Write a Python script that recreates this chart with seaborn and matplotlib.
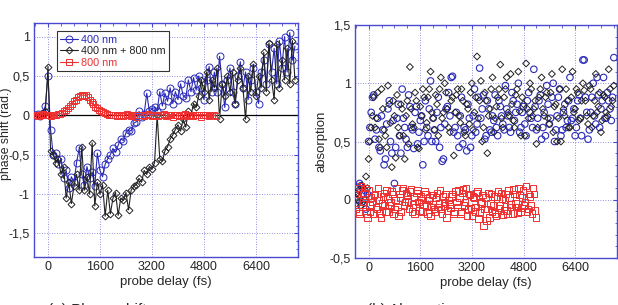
import numpy as np
import pandas as pd
import matplotlib
matplotlib.use("Agg")
import matplotlib.pyplot as plt
from matplotlib.ticker import FixedLocator, AutoMinorLocator, FuncFormatter
import seaborn as sns

sns.set_style("white")
plt.rcParams['font.family'] = ['Liberation Sans', 'DejaVu Sans']

# probe delays (fs)
delay_2c = [-400, -320, -240, -160, -80, 0, 80, 160, 240, 320,
            400, 480, 560, 640, 720, 800, 880, 960, 1040, 1120,
            1200, 1280, 1360, 1440, 1520, 1600, 1680, 1760, 1840, 1920,
            2000, 2080, 2160, 2240, 2320, 2400, 2480, 2560, 2640, 2720,
            2800, 2880, 2960, 3040, 3120, 3200, 3280, 3360, 3440, 3520,
            3600, 3680, 3760, 3840, 3920, 4000, 4080, 4160, 4240, 4320,
            4400, 4480, 4560, 4640, 4720, 4800, 4880, 4960, 5040, 5120,
            5200, 5280, 5360, 5440, 5520, 5600, 5680, 5760, 5840, 5920,
            6000, 6080, 6160, 6240, 6320, 6400, 6480, 6560, 6640, 6720,
            6800, 6880, 6960, 7040, 7120, 7200, 7280, 7360, 7440, 7520,
            7600]
delay_800 = [-400, -340, -280, -220, -160, -100, -40, 20, 80, 140,
             200, 260, 320, 380, 440, 500, 560, 620, 680, 740,
             800, 860, 920, 980, 1040, 1100, 1160, 1220, 1280, 1340,
             1400, 1460, 1520, 1580, 1640, 1700, 1760, 1820, 1880, 1940,
             2000, 2060, 2120, 2180, 2240, 2300, 2360, 2420, 2480, 2540,
             2600, 2660, 2720, 2780, 2840, 2900, 2960, 3020, 3080, 3140,
             3200, 3260, 3320, 3380, 3440, 3500, 3560, 3620, 3680, 3740,
             3800, 3860, 3920, 3980, 4040, 4100, 4160, 4220, 4280, 4340,
             4400, 4460, 4520, 4580, 4640, 4700, 4760, 4820, 4880, 4940,
             5000, 5060, 5120, 5180]
# extra delays measured in the absorption scan
delay_2c_mid = [-360, -280, -200, -120, -40, 40, 120, 200, 280, 360,
                440, 520, 600, 680, 760, 840, 920, 1000, 1080, 1160,
                1240, 1320, 1400, 1480, 1560, 1640, 1720, 1800, 1880, 1960,
                2040, 2120, 2200, 2280, 2360, 2440, 2520, 2600, 2680, 2760,
                2840, 2920, 3000, 3080, 3160, 3240, 3320, 3400, 3480, 3560,
                3640, 3720, 3800, 3880, 3960, 4040, 4120, 4200, 4280, 4360,
                4440, 4520, 4600, 4680, 4760, 4840, 4920, 5000, 5080, 5160,
                5240, 5320, 5400, 5480, 5560, 5640, 5720, 5800, 5880, 5960,
                6040, 6120, 6200, 6280, 6360, 6440, 6520, 6600, 6680, 6760,
                6840, 6920, 7000, 7080, 7160, 7240, 7320, 7400, 7480, 7560]
delay_800_mid = [-370, -310, -250, -190, -130, -70, -10, 50, 110, 170,
                 230, 290, 350, 410, 470, 530, 590, 650, 710, 770,
                 830, 890, 950, 1010, 1070, 1130, 1190, 1250, 1310, 1370,
                 1430, 1490, 1550, 1610, 1670, 1730, 1790, 1850, 1910, 1970,
                 2030, 2090, 2150, 2210, 2270, 2330, 2390, 2450, 2510, 2570,
                 2630, 2690, 2750, 2810, 2870, 2930, 2990, 3050, 3110, 3170,
                 3230, 3290, 3350, 3410, 3470, 3530, 3590, 3650, 3710, 3770,
                 3830, 3890, 3950, 4010, 4070, 4130, 4190, 4250, 4310, 4370,
                 4430, 4490, 4550, 4610, 4670, 4730, 4790, 4850, 4910, 4970,
                 5030, 5090, 5150]

# (a) phase shift (rad.)
phase_400 = [0.0, 0.02, -0.01, 0.03, 0.12, 0.5, -0.18, -0.5, -0.48, -0.62,
             -0.55, -0.8, -0.7, -0.92, -0.78, -0.85, -0.6, -0.42, -0.75, -0.88,
             -0.65, -0.8, -0.72, -0.9, -0.48, -0.7, -0.78, -0.62, -0.55, -0.5,
             -0.42, -0.47, -0.38, -0.3, -0.32, -0.22, -0.18, -0.2, -0.1, -0.08,
             0.05, -0.02, 0.02, 0.28, 0.05, 0.08, 0.1, 0.06, 0.3, 0.12,
             0.28, 0.18, 0.35, 0.15, 0.3, 0.2, 0.4, 0.25, 0.22, 0.45,
             0.3, 0.48, 0.32, 0.5, 0.35, 0.2, 0.45, 0.62, 0.3, 0.55,
             0.3, 0.75, 0.4, 0.1, 0.45, 0.6, 0.3, 0.15, 0.5, 0.68,
             0.35, 0.55, 0.2, 0.45, 0.6, 0.3, 0.15, 0.55, 0.7, 0.4,
             0.9, 0.55, 0.85, 0.4, 0.95, 0.6, 1.0, 0.55, 1.05, 0.7,
             0.88]
phase_both = [0.0, 0.01, 0.0, 0.02, 0.05, 0.62, -0.45, -0.5, -0.6, -0.55,
              -0.75, -0.65, -1.05, -0.85, -1.12, -0.9, -0.75, -0.95, -0.4, -0.95,
              -0.78, -1.0, -0.35, -1.15, -0.85, -1.0, -0.88, -1.28, -0.95, -1.25,
              -1.05, -0.98, -1.27, -1.05, -1.08, -0.98, -1.2, -0.95, -0.9, -0.88,
              -0.8, -0.85, -0.7, -0.75, -0.65, -0.68, -0.6, 0.0, -0.55, -0.58,
              -0.45, -0.4, -0.3, -0.25, -0.18, -0.12, -0.2, -0.05, -0.15, 0.05,
              0.0, 0.15, 0.1, 0.25, 0.45, 0.3, 0.55, 0.2, 0.45, 0.35,
              0.6, -0.05, 0.4, 0.25, 0.5, 0.3, 0.55, 0.15, 0.45, 0.6,
              0.35, -0.05, 0.5, 0.3, 0.65, 0.25, 0.5, 0.35, 0.8, 0.3,
              0.92, 0.45, 0.2, 0.9, 0.35, 0.7, 0.45, 0.85, 0.4, 0.95,
              0.45]
phase_800 = [0.0, 0.01, -0.01, 0.0, 0.02, 0.01, 0.0, 0.01, -0.01, 0.0,
             0.01, 0.0, 0.02, 0.02, 0.03, 0.05, 0.07, 0.09, 0.12, 0.15,
             0.18, 0.2, 0.23, 0.24, 0.26, 0.25, 0.26, 0.23, 0.2, 0.17,
             0.14, 0.11, 0.09, 0.07, 0.05, 0.04, 0.03, 0.02, 0.01, 0.01,
             0.0, 0.01, -0.01, 0.0, 0.01, -0.01, 0.0, 0.02, 0.0, -0.01,
             0.01, 0.0, -0.02, 0.01, 0.0, 0.01, -0.01, 0.0, 0.02, 0.0,
             -0.01, 0.01, 0.0, -0.01, 0.01, 0.0, 0.02, -0.01, 0.0, 0.01,
             0.0, -0.02, 0.01, 0.0, -0.01, 0.01, 0.0, 0.02, -0.01, 0.0,
             0.01, -0.01, 0.0, 0.01, 0.0, -0.02, 0.01, 0.0, 0.01, -0.01,
             0.0, 0.01, 0.0, -0.01]

# (b) absorption
abs_400 = [-0.05, 0.1, 0.12, 0.05, -0.08, 0.5, 0.75, 0.9, 0.6, 0.45,
           0.72, 0.3, 0.65, 0.85, 0.4, 0.14, 0.7, 0.55, 0.95, 0.62,
           0.45, 0.8, 0.6, 0.75, 0.48, 0.68, 0.3, 0.85, 0.55, 1.02,
           0.7, 0.5, 0.88, 0.62, 0.35, 0.78, 0.92, 1.05, 0.58, 0.75,
           0.45, 0.88, 0.62, 0.42, 0.7, 0.55, 0.95, 0.65, 1.13, 0.78,
           0.52, 0.85, 0.6, 0.72, 0.9, 0.55, 0.8, 0.65, 0.98, 0.72,
           0.58, 0.85, 0.75, 1.0, 0.62, 0.8, 0.55, 0.92, 0.7, 1.12,
           0.6, 0.85, 0.52, 0.75, 0.98, 0.65, 0.88, 0.5, 0.72, 0.95,
           0.6, 0.82, 0.68, 1.05, 0.7, 0.55, 0.85, 0.7, 1.2, 0.88,
           0.52, 0.75, 1.0, 0.65, 0.9, 0.78, 1.05, 0.7, 0.85, 0.68,
           1.22]
abs_both = [0.02, 0.08, -0.05, 0.1, 0.2, 0.35, 0.62, 0.88, 0.7, 0.52,
            0.95, 0.6, 0.45, 0.82, 0.28, 0.72, 0.9, 0.55, 0.78, 0.35,
            0.85, 1.14, 0.65, 0.92, 0.45, 0.8, 0.95, 0.6, 0.88, 1.1,
            0.7, 0.9, 0.55, 1.05, 0.75, 0.92, 0.62, 0.85, 0.38, 0.9,
            0.72, 0.95, 0.58, 0.82, 0.65, 1.0, 0.75, 1.23, 0.85, 0.5,
            0.92, 0.4, 0.78, 1.05, 0.7, 0.88, 1.16, 0.62, 0.95, 0.75,
            1.08, 0.68, 0.9, 1.1, 0.55, 0.82, 1.17, 0.7, 0.95, 0.78,
            0.48, 0.88, 1.05, 0.72, 0.92, 0.65, 1.08, 0.8, 0.5, 0.95,
            1.12, 0.72, 0.85, 0.62, 1.1, 0.78, 0.92, 0.7, 1.0, 0.85,
            0.65, 0.95, 0.72, 1.08, 0.8, 0.58, 0.9, 0.75, 1.12, 0.8,
            0.98]
abs_800 = [-0.08, 0.1, -0.12, 0.05, -0.02, 0.1, -0.15, -0.05, 0.02, -0.12,
           0.05, -0.08, 0.0, -0.15, 0.03, -0.05, 0.08, -0.1, -0.02, 0.05,
           -0.08, 0.1, -0.14, 0.02, 0.08, -0.05, 0.06, -0.02, 0.07, -0.1,
           0.03, -0.06, 0.08, -0.09, 0.0, -0.04, 0.05, -0.12, 0.02, -0.06,
           0.04, -0.1, 0.06, -0.03, -0.08, 0.03, -0.05, -0.15, 0.0, -0.07,
           0.05, -0.1, -0.02, 0.08, -0.12, 0.06, -0.05, 0.1, -0.08, 0.04,
           -0.14, 0.02, -0.06, 0.07, -0.11, -0.03, -0.22, 0.02, -0.08, -0.15,
           0.05, -0.05, -0.12, 0.03, -0.07, 0.06, -0.13, 0.0, -0.09, 0.08,
           -0.04, -0.12, 0.05, -0.06, 0.1, -0.1, 0.02, -0.05, 0.12, -0.08,
           0.03, -0.12, 0.05, -0.15]
abs_400_mid = [0.0, 0.14, -0.02, 0.08, 0.05, 0.62, 0.88, 0.52, 0.7, 0.42,
               0.6, 0.35, 0.78, 0.5, 0.68, 0.45, 0.82, 0.4, 0.7, 0.52,
               0.9, 0.62, 0.44, 0.8, 0.58, 0.72, 0.5, 0.62, 0.78, 0.5,
               0.6, 0.75, 0.45, 0.33, 0.65, 0.8, 0.72, 1.06, 0.62, 0.55,
               0.72, 0.48, 0.6, 0.82, 0.45, 0.72, 0.58, 0.88, 0.7, 0.9,
               0.55, 0.78, 0.58, 0.68, 0.62, 0.85, 0.72, 0.6, 0.78, 0.62,
               0.92, 0.68, 0.82, 0.58, 0.75, 0.65, 0.85, 0.75, 0.62, 0.8,
               0.7, 0.9, 0.62, 0.55, 0.82, 0.7, 1.0, 0.6, 0.88, 0.55,
               0.75, 0.62, 0.85, 0.68, 0.78, 0.62, 0.9, 0.55, 1.2, 0.75,
               0.6, 0.88, 0.72, 1.05, 0.62, 0.85, 0.7, 0.92, 0.78, 0.88]
abs_both_mid = [0.05, -0.02, 0.12, 0.0, 0.1, 0.5, 0.72, 0.62, 0.92, 0.45,
                0.78, 0.55, 0.98, 0.66, 0.85, 0.36, 0.62, 0.82, 0.55, 0.72,
                0.48, 0.78, 0.62, 0.85, 0.44, 0.72, 0.88, 0.66, 0.95, 0.75,
                0.6, 0.82, 0.95, 0.7, 1.0, 0.78, 0.58, 0.88, 0.75, 0.95,
                0.66, 0.85, 0.55, 0.78, 0.92, 0.6, 0.88, 0.7, 1.02, 0.62,
                0.85, 0.72, 0.95, 0.58, 0.8, 0.95, 0.7, 0.88, 1.05, 0.72,
                0.82, 0.62, 0.95, 0.76, 0.88, 0.55, 0.78, 1.0, 0.72, 0.85,
                0.62, 0.95, 0.78, 0.88, 0.7, 0.92, 0.58, 0.82, 0.7, 0.5,
                0.78, 0.95, 0.62, 0.88, 0.75, 0.95, 0.68, 0.85, 0.94, 0.72,
                0.98, 0.62, 0.85, 0.75, 0.92, 0.68, 0.88, 0.72, 0.95, 0.85]
abs_800_mid = [0.05, -0.1, 0.12, -0.04, 0.06, -0.12, 0.08, -0.1, -0.02, 0.04,
               -0.06, 0.1, -0.12, -0.03, 0.06, -0.1, 0.01, -0.05, 0.07, -0.12,
               0.0, -0.06, 0.05, -0.1, 0.1, -0.02, 0.04, -0.08, 0.09, -0.04,
               -0.12, 0.06, -0.02, 0.03, -0.1, 0.07, -0.05, 0.0, -0.14, 0.04,
               -0.08, 0.02, -0.06, 0.08, -0.12, -0.02, 0.05, -0.09, -0.04, 0.03,
               -0.12, 0.07, -0.06, 0.02, -0.1, 0.09, -0.02, -0.14, 0.05, -0.07,
               0.03, -0.1, 0.06, -0.16, -0.02, 0.04, -0.08, -0.18, 0.06, -0.03,
               -0.1, 0.03, -0.14, 0.07, -0.05, 0.01, -0.09, 0.05, -0.12, 0.02,
               -0.06, 0.09, -0.03, -0.11, 0.04, -0.07, 0.08, -0.02, -0.1, 0.05,
               -0.05, 0.1, -0.09]

BLUE = '#2a2ab8'
BLACK = '#222222'
RED = '#ee3030'
FRAME = '#4a4ad0'
xticks = [0, 1600, 3200, 4800, 6400]


def comma(v, pos):
    s = '%g' % v
    return s.replace('.', ',')


def style_axes(ax, ylim, yticks):
    ax.set_xlim(-430, 7690)
    ax.set_ylim(*ylim)
    ax.xaxis.set_major_locator(FixedLocator(xticks))
    ax.yaxis.set_major_locator(FixedLocator(yticks))
    ax.xaxis.set_minor_locator(AutoMinorLocator(4))
    ax.yaxis.set_minor_locator(AutoMinorLocator(5))
    ax.yaxis.set_major_formatter(FuncFormatter(comma))
    ax.tick_params(which='both', direction='in', top=True, right=True,
                   color=FRAME, labelsize=9, pad=3)
    ax.tick_params(which='major', length=3, width=0.8)
    ax.tick_params(which='minor', length=1.8, width=0.6)
    for sp in ax.spines.values():
        sp.set_color(FRAME)
        sp.set_linewidth(1.0)
    ax.grid(True, which='major', color=FRAME, linestyle=(0, (1, 2)),
            linewidth=0.6, alpha=0.8)
    ax.set_xlabel('probe delay (fs)', fontsize=9.5, labelpad=2)


fig = plt.figure(figsize=(6.18, 3.05), dpi=100)
ax1 = fig.add_axes([0.055, 0.157, 0.427, 0.767])
ax2 = fig.add_axes([0.574, 0.154, 0.424, 0.764])

# (a) phase shift
ax1.axhline(0, color='black', lw=0.9, zorder=1)
sns.lineplot(x=delay_2c, y=phase_400, ax=ax1, color=BLUE, lw=0.8,
             marker='o', markersize=5, markerfacecolor='none',
             markeredgecolor=BLUE, markeredgewidth=0.7, label='400 nm',
             sort=False, zorder=2)
sns.lineplot(x=delay_2c, y=phase_both, ax=ax1, color=BLACK, lw=0.8,
             marker='D', markersize=3.5, markerfacecolor='none',
             markeredgecolor=BLACK, markeredgewidth=0.7,
             label='400 nm + 800 nm', sort=False, zorder=3)
sns.lineplot(x=delay_800, y=phase_800, ax=ax1, color=RED, lw=0.8,
             marker='s', markersize=5, markerfacecolor='none',
             markeredgecolor=RED, markeredgewidth=0.7, label='800 nm',
             sort=False, zorder=4)
style_axes(ax1, (-1.8, 1.17), [-1.5, -1, -0.5, 0, 0.5, 1])
ax1.set_ylabel('')
leg = ax1.legend(loc='upper left', bbox_to_anchor=(0.087, 0.965), fontsize=7.8,
                 frameon=True, fancybox=False, edgecolor='black',
                 labelcolor='linecolor', handlelength=1.6, handletextpad=0.3,
                 borderpad=0.3, labelspacing=0.15, borderaxespad=0)
leg.get_frame().set_linewidth(0.8)
fig.text(0.009, 0.56, 'phase shift (rad.)', rotation=90, ha='center',
         va='center', fontsize=8.8)

# (b) absorption
sns.scatterplot(x=delay_2c + delay_2c_mid, y=abs_400 + abs_400_mid, ax=ax2,
                marker='o', s=22, facecolor='none', edgecolor=BLUE,
                linewidth=0.8, zorder=2)
sns.scatterplot(x=delay_2c + delay_2c_mid, y=abs_both + abs_both_mid, ax=ax2,
                marker='D', s=12, facecolor='none', edgecolor=BLACK,
                linewidth=0.7, zorder=3)
sns.scatterplot(x=delay_800 + delay_800_mid, y=abs_800 + abs_800_mid, ax=ax2,
                marker='s', s=22, facecolor='none', edgecolor=RED,
                linewidth=0.7, zorder=4)
style_axes(ax2, (-0.5, 1.5), [-0.5, 0, 0.5, 1, 1.5])
ax2.set_ylabel('absorption', fontsize=9.5, labelpad=1)

# sub-figure captions (cut by the page edge)
fig.text(0.078, 0.008, '(a) Phase shift', ha='left', va='top', fontsize=11)
fig.text(0.594, 0.008, '(b) Absorption', ha='left', va='top', fontsize=11)

fig.savefig('out.png', dpi=100)
